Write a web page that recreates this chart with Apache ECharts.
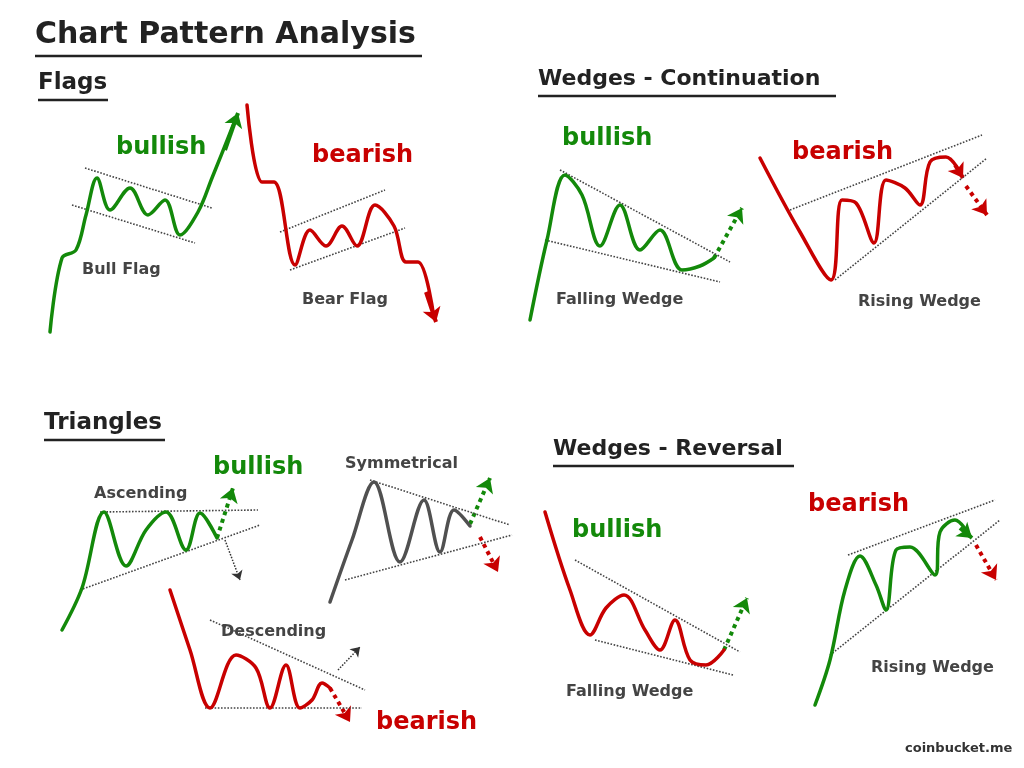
<![CDATA[<!DOCTYPE html><html><head><meta charset="utf-8"><script src="https://cdn.jsdelivr.net/npm/echarts@6/dist/echarts.min.js"></script>
<style>html,body{margin:0;background:#fff}#c{width:1024px;height:768px}</style></head><body><div id="c"></div><script>
const G='#13890a',R='#c80000',K='#505050',D='#444';
// pattern curves [x,y]
const bullFlag=[[50,332],[62,258],[76,250],[86,215],[97,178],[110,210],[130,188],[148,215],[165,200],[180,235],[198,212],[212,178],[236,118]];
const bearFlag=[[247,105],[262,182],[274,182],[295,265],[310,230],[326,246],[342,226],[357,246],[375,205],[394,226],[406,262],[418,262],[434,318]];
const fallWedgeC=[[530,320],[547,240],[565,175],[582,195],[600,246],[620,205],[640,250],[660,230],[682,270],[700,266],[714,258]];
const riseWedgeC=[[760,158],[800,232],[831,280],[842,200],[856,203],[874,243],[886,180],[905,188],[920,205],[930,162],[946,157],[962,176]];
const ascending=[[62,630],[82,588],[104,512],[126,566],[146,530],[166,512],[186,550],[200,513],[217,538]];
const symmetrical=[[330,602],[352,540],[374,482],[400,562],[424,500],[440,552],[454,510],[470,526]];
const descending=[[170,590],[190,650],[210,708],[236,655],[256,668],[270,708],[286,665],[300,708],[312,700],[322,683],[330,688]];
const fallWedgeR=[[545,512],[570,590],[590,635],[606,608],[624,595],[645,630],[660,650],[675,620],[690,660],[706,665],[724,650]];
const riseWedgeR=[[815,705],[830,660],[845,590],[860,556],[876,585],[886,610],[896,550],[910,547],[935,575],[940,532],[955,520],[970,536]];
const curves=[[bullFlag,G],[bearFlag,R],[fallWedgeC,G],[riseWedgeC,R],[ascending,G],[symmetrical,K],[descending,R],[fallWedgeR,R],[riseWedgeR,G]];
// dotted guides
const guides=[[[85,168],[212,208]],[[72,205],[195,243]],[[280,232],[385,190]],[[290,270],[405,228]],
[[560,170],[730,262]],[[545,240],[720,282]],[[790,210],[982,135]],[[835,280],[987,158]],
[[100,512],[258,510]],[[80,590],[260,525]],[[370,480],[510,525]],[[345,580],[512,535]],
[[210,620],[365,690]],[[205,708],[362,708]],[[575,560],[740,652]],[[595,640],[733,675]],
[[848,555],[995,500]],[[830,655],[1000,520]]];
// arrows [from,to,color,dotted,width]
const arrows=[[[225,150],[238,113],G,0,4],[[426,292],[436,322],R,0,4],[[714,258],[742,208],G,1,4],[[955,165],[963,178],R,0,4],[[966,186],[987,215],R,1,4],
[[217,538],[233,488],G,1,4],[[225,540],[240,580],'#333',1,1.5],[[470,524],[490,478],G,1,4],[[480,537],[498,572],R,1,4],
[[330,688],[350,722],R,1,4],[[338,670],[360,647],'#333',1,1.5],[[724,650],[747,598],G,1,4],[[960,528],[972,538],G,0,4],[[976,545],[996,580],R,1,4]];
// texts [text,x,y,size,color,weight]
const texts=[['Chart Pattern Analysis',35,20,30,'#222','bold'],['Flags',38,72,23,'#222','bold'],['Wedges - Continuation',538,68,22,'#222','bold'],
['Triangles',44,412,23,'#222','bold'],['Wedges - Reversal',553,438,22,'#222','bold'],
['bullish',116,136,24,G,'bold'],['bearish',312,144,24,R,'bold'],['bullish',562,127,24,G,'bold'],['bearish',792,141,24,R,'bold'],
['bullish',213,456,24,G,'bold'],['bearish',376,711,24,R,'bold'],['bullish',572,519,24,G,'bold'],['bearish',808,493,24,R,'bold'],
['Bull Flag',82,262,16,'#444','bold'],['Bear Flag',302,292,16,'#444','bold'],['Falling Wedge',556,292,16,'#444','bold'],['Rising Wedge',858,294,16,'#444','bold'],
['Ascending',94,486,16,'#444','bold'],['Symmetrical',345,456,16,'#444','bold'],['Descending',221,624,16,'#444','bold'],
['Falling Wedge',566,684,16,'#444','bold'],['Rising Wedge',871,660,16,'#444','bold'],['coinbucket.me',905,742,13,'#333','bold']];
const underlines=[[35,56,422],[38,100,108],[538,96,836],[44,440,165],[553,466,794]];
const series=[];
guides.forEach(g=>series.push({type:'line',data:g,symbol:'none',silent:true,lineStyle:{type:'dotted',width:1.6,color:D}}));
curves.forEach(c=>series.push({type:'line',data:c[0],symbol:'none',smooth:0.35,silent:true,lineStyle:{width:3.5,color:c[1],cap:'round'}}));
arrows.forEach(a=>series.push({type:'lines',coordinateSystem:'cartesian2d',silent:true,symbol:['none','arrow'],symbolSize:a[4]>2?14:9,
 lineStyle:{color:a[2],width:a[4],type:a[3]?'dotted':'solid',opacity:1},data:[{coords:[a[0],a[1]]}]}));
underlines.forEach(u=>series.push({type:'line',data:[[u[0],u[1]],[u[2],u[1]]],symbol:'none',silent:true,lineStyle:{width:2.5,color:'#222'}}));
const graphic=texts.map(t=>({type:'text',x:t[1],y:t[2],style:{text:t[0],fontSize:t[3],fill:t[4],fontWeight:t[5],fontFamily:'DejaVu Sans'}}));
const ch=echarts.init(document.getElementById('c'));
ch.setOption({animation:false,backgroundColor:'#fff',grid:{left:0,right:0,top:0,bottom:0},
xAxis:{type:'value',min:0,max:1024,show:false},yAxis:{type:'value',min:0,max:768,inverse:true,show:false},series,graphic});
</script></body></html>]]>
